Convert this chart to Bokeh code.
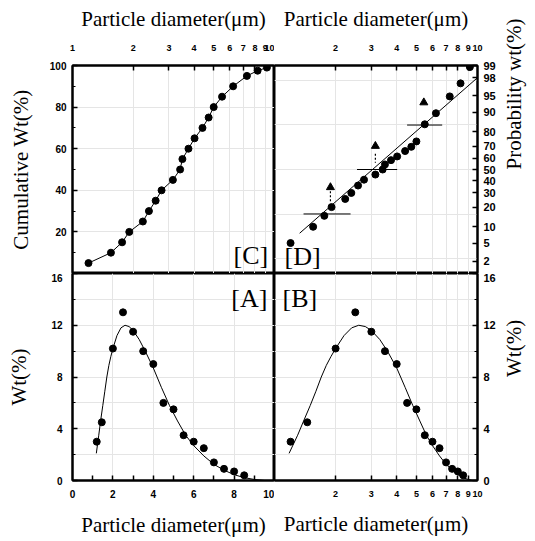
import math
from statistics import NormalDist
from bokeh.plotting import figure
from bokeh.layouts import gridplot
from bokeh.models import FixedTicker, Range1d, LinearAxis, LogAxis, Label
from bokeh.embed import file_html
from bokeh.resources import INLINE

# ---------------- data ----------------
# [A]/[B] measured weight fractions
wt_x = [1.2, 1.45, 2.0, 2.5, 3.0, 3.5, 4.0, 4.5, 5.0, 5.5, 6.0, 6.5, 7.0, 7.5, 8.0, 8.5]
wt_y = [3.0, 4.5, 10.2, 13.0, 11.5, 10.0, 9.0, 6.0, 5.5, 3.5, 3.0, 2.5, 1.4, 0.9, 0.7, 0.4]
# fitted distribution curve
fit_x = [1.18, 1.3, 1.4, 1.5, 1.6, 1.7, 1.8, 1.9, 2.0, 2.2, 2.4, 2.6, 2.8, 3.0, 3.3, 3.6,
         4.0, 4.4, 4.8, 5.2, 5.6, 6.0, 6.5, 7.0, 7.5, 8.0, 8.5, 9.0, 9.5]
fit_y = [2.1, 3.5, 4.7, 5.8, 6.9, 8.0, 8.9, 9.6, 10.2, 11.2, 11.8, 12.0, 11.9, 11.6, 10.9, 10.0,
         8.7, 7.2, 5.8, 4.6, 3.5, 2.7, 1.9, 1.25, 0.8, 0.45, 0.22, 0.08, 0.0]
# [C]/[D] particle sizes of the cumulative points
size_x = [1.2, 1.55, 1.76, 1.91, 2.23, 2.39, 2.58, 2.76, 3.14, 3.41, 3.5, 3.75, 4.02,
          4.4, 4.72, 5.0, 5.5, 6.24, 7.3, 8.25, 9.17]
cum_y = [5, 10, 15, 20, 25, 30, 35, 40, 45, 50, 55, 60, 65, 70, 75, 80, 85, 90, 95, 97.5, 99]
prob_y = [5, 10, 15, 20, 25.5, 30, 36, 41, 45.5, 50, 54.5, 58.3, 61.5, 66, 69.4, 73.5,
          84.4, 89.6, 94.9, 97.3, 98.9]
# [D] fitted straight line and d16 / d50 / d84 markers
line_x = [1.33, 10.0]
line_p = [7.7, 98.0]
dmark_p = [16, 50, 84]
dmark_x0 = [1.39, 2.55, 4.5]
dmark_x1 = [2.37, 4.02, 6.7]
tri_x = [1.886, 3.14, 5.44]
tri_p = [34.5, 70.0, 93.3]
dot_x = [1.886, 3.14]
dot_p0 = [31.3, 63.7]
dot_p1 = [22.6, 55.9]
prob_ticks = [99, 98, 95, 90, 80, 70, 60, 50, 40, 30, 20, 10, 5, 2]
log_ticks = [1, 2, 3, 4, 5, 6, 7, 8, 9, 10]
lin_ticks = [0, 2, 4, 6, 8, 10]

ND = NormalDist()
def z(p):
    return ND.inv_cdf(p / 100.0)

SERIF = "Liberation Serif"
SANS = "Liberation Sans"


def style(ax, size="10px", label_size="21px"):
    ax.major_tick_in = 5
    ax.major_tick_out = 0
    ax.minor_tick_in = 3
    ax.minor_tick_out = 0
    ax.axis_line_width = 2
    ax.major_tick_line_width = 1.5
    ax.minor_tick_line_width = 1
    ax.major_label_text_font = SANS
    ax.major_label_text_font_size = size
    ax.major_label_text_font_style = "bold"
    ax.major_label_text_color = "black"
    ax.axis_label_text_font = SERIF
    ax.axis_label_text_font_size = label_size
    ax.axis_label_text_font_style = "normal"
    ax.axis_label_text_color = "black"


def x_axis(cls, label_pos, labels, size, standoff, label_standoff, tick_marks):
    # labels are carried by invisible major ticks, the visible marks by minor ticks
    ax = cls(ticker=FixedTicker(ticks=label_pos, minor_ticks=tick_marks),
             major_label_overrides={pos: lab for pos, lab in zip(label_pos, labels)},
             axis_label="Particle diameter(\u03bcm)")
    style(ax, size, "21px")
    ax.major_tick_in = 0
    ax.minor_tick_in = 5
    ax.minor_tick_line_width = 1.5
    ax.major_label_standoff = standoff
    ax.axis_label_standoff = label_standoff
    return ax


def right_axis(ax, label_standoff):
    ax.major_label_standoff = 6
    ax.axis_label_standoff = label_standoff
    ax.axis_label_orientation = math.pi / 2
    ax.axis_label_text_align = "center"


def make(fw, fh, xtype, xr, yr, bl, br, bt, bb):
    p = figure(frame_width=fw, frame_height=fh, x_axis_type=xtype, x_range=xr, y_range=yr,
               x_axis_location=None, y_axis_location=None,
               min_border_left=bl, min_border_right=br, min_border_top=bt,
               min_border_bottom=bb, toolbar_location=None, output_backend="svg")
    p.outline_line_color = "black"
    p.outline_line_width = 2
    p.outline_line_alpha = 1
    p.background_fill_color = "white"
    p.border_fill_color = "white"
    return p


def tag(p, x, y, text, align):
    p.add_layout(Label(x=x, y=y, text=text, text_align=align, text_baseline="middle",
                       text_font=SERIF, text_font_size="26px", text_color="black"))

# ---------------- [C] ----------------
pc = make(202, 208, "log", Range1d(1, 10), Range1d(0, 100), 72, 0, 65, 0)
pos = [1.0, 2, 3, 4, 5, 6, 7, 8, 9, 9.55]
pc.add_layout(x_axis(LogAxis, pos, [str(t) for t in log_ticks], "9px", 15, 11,
                     log_ticks[1:-1]), "above")
ay = LinearAxis(ticker=FixedTicker(ticks=[0, 20, 40, 60, 80, 100], minor_ticks=[10, 30, 50, 70, 90]),
                major_label_overrides={0: ""}, axis_label="Cumulative Wt(%)")
style(ay)
ay.major_label_standoff = 6
ay.axis_label_standoff = 14
pc.add_layout(ay, "left")
pc.line(size_x, cum_y, line_color="black", line_width=1)
pc.scatter(size_x, cum_y, size=7, color="black")
tag(pc, 9.3, 8.5, "[C]", "right")

# ---------------- [D] ----------------
pd_ = make(203, 208, "log", Range1d(1, 10), Range1d(z(1), z(99)), 0, 57, 65, 0)
pos = [2, 3, 4, 5, 6, 7, 8, 9, 10]
pd_.add_layout(x_axis(LogAxis, pos, [str(t) for t in log_ticks[1:]], "9px", 15, 11,
                      log_ticks[1:-1]), "above")
zt = [z(p) for p in prob_ticks]
ay = LinearAxis(ticker=FixedTicker(ticks=zt, minor_ticks=[]),
                major_label_overrides={zz: str(p) for zz, p in zip(zt, prob_ticks)},
                axis_label="Probability wt(%)")
style(ay, "11px")
right_axis(ay, 15)
pd_.add_layout(ay, "right")
pd_.line(line_x, [z(p) for p in line_p], line_color="black", line_width=1)
pd_.scatter(size_x, [z(p) for p in prob_y], size=7, color="black")
pd_.segment(x0=dmark_x0, y0=[z(p) for p in dmark_p], x1=dmark_x1, y1=[z(p) for p in dmark_p],
            line_color="black", line_width=1)
pd_.segment(x0=dot_x, y0=[z(p) for p in dot_p0], x1=dot_x, y1=[z(p) for p in dot_p1],
            line_color="black", line_width=1.2, line_dash="2 2")
pd_.scatter(tri_x, [z(p) for p in tri_p], marker="triangle", size=8, color="black")
tag(pd_, 1.12, z(2.6), "[D]", "left")

# ---------------- [A] ----------------
pa = make(202, 207, "linear", Range1d(0, 10), Range1d(0, 16), 72, 0, 0, 60)
pos = [0, 2, 4, 6, 8, 9.72]
pa.add_layout(x_axis(LinearAxis, pos, [str(t) for t in lin_ticks], "10px", 9, 12,
                     [1, 2, 3, 4, 5, 6, 7, 8, 9]), "below")
ay = LinearAxis(ticker=FixedTicker(ticks=[0, 4, 8, 12, 16], minor_ticks=[2, 6, 10, 14]),
                axis_label="Wt(%)")
style(ay)
ay.major_label_standoff = 10
ay.axis_label_standoff = 17
pa.add_layout(ay, "left")
pa.line(fit_x, fit_y, line_color="black", line_width=1)
pa.scatter(wt_x, wt_y, size=7, color="black")
tag(pa, 9.65, 14.1, "[A]", "right")

# ---------------- [B] ----------------
pb = make(203, 207, "log", Range1d(1, 10), Range1d(0, 16), 0, 57, 0, 60)
pos = [2, 3, 4, 5, 6, 7, 8, 9, 10]
pb.add_layout(x_axis(LogAxis, pos, [str(t) for t in log_ticks[1:]], "9px", 10, 12,
                     log_ticks[1:-1]), "below")
ay = LinearAxis(ticker=FixedTicker(ticks=[0, 4, 8, 12, 16], minor_ticks=[2, 6, 10, 14]),
                axis_label="Wt(%)")
style(ay, "11px")
right_axis(ay, 15)
pb.add_layout(ay, "right")
pb.line(fit_x, fit_y, line_color="black", line_width=1)
pb.scatter(wt_x, wt_y, size=7, color="black")
tag(pb, 1.095, 14.1, "[B]", "left")

grid = gridplot([[pc, pd_], [pa, pb]], toolbar_location=None)
open("out.html", "w").write(file_html(grid, INLINE))
